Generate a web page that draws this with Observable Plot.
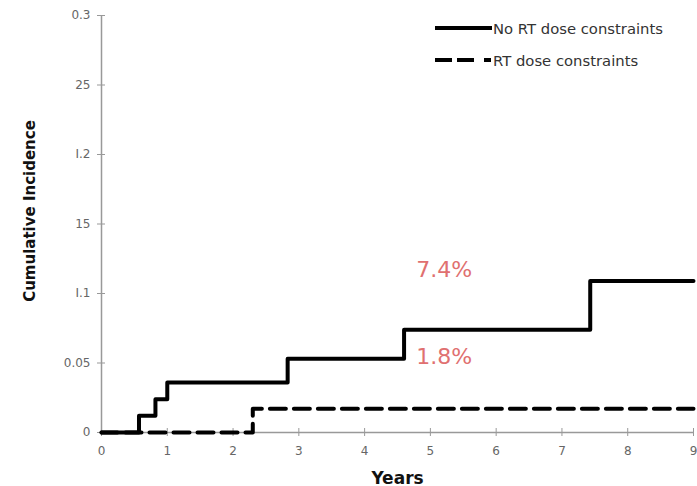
<!DOCTYPE html>
<html>
<head>
<meta charset="utf-8">
<script src="https://cdn.jsdelivr.net/npm/d3@7"></script>
<script src="https://cdn.jsdelivr.net/npm/@observablehq/plot@0.6"></script>
<style>
  body { margin: 0; background: #fff; font-family: "DejaVu Sans", sans-serif; }
  #wrap { position: relative; width: 697px; height: 486px; }
  .row { position: absolute; left: 435px; display: flex; align-items: center; height: 20px;
         font-size: 14.8px; color: #333; white-space: nowrap; }
  .row svg { margin-right: 1px; }
</style>
</head>
<body>
<div id="wrap">
  <div id="chart"></div>
</div>
<script>
// Step points: No RT dose constraints
const noRtYears = [0, 0.57, 0.82, 1.0, 2.83, 4.6, 7.43, 9];
const noRtIncidence = [0, 0.012, 0.024, 0.036, 0.053, 0.074, 0.109, 0.109];
// Step points: RT dose constraints
const rtYears = [0, 2.3, 9];
const rtIncidence = [0, 0.017, 0.017];
// Annotations
const annotTexts = ["7.4%", "1.8%"];
const annotX = [5.21, 5.21];
const annotY = [0.1166, 0.054];
// Ticks
const yTicks = [0, 0.05, 0.1, 0.15, 0.2, 0.25, 0.3];
const yTickLabels = ["0", "0.05", "I.1", "15", "I.2", "25", "0.3"];
const xTicks = [0, 1, 2, 3, 4, 5, 6, 7, 8, 9];
const seriesNames = ["No RT dose constraints", "RT dose constraints"];

const noRt = noRtYears.map((x, i) => ({x, y: noRtIncidence[i]}));
const rt = rtYears.map((x, i) => ({x, y: rtIncidence[i]}));
const annots = annotTexts.map((t, i) => ({t, x: annotX[i], y: annotY[i]}));

const plot = Plot.plot({
  width: 697,
  height: 486,
  marginLeft: 101,
  marginRight: 4,
  marginTop: 15,
  marginBottom: 54,
  style: { fontFamily: "'DejaVu Sans', sans-serif", background: "#fff" },
  x: { domain: [0, 9] },
  y: { domain: [0, 0.3] },
  marks: [
    Plot.ruleX([0], { stroke: "#999", strokeWidth: 1.5 }),
    Plot.ruleY([0], { stroke: "#999", strokeWidth: 1.5 }),
    Plot.axisY({ ticks: yTicks, tickSize: 4, tickPadding: 7, stroke: "#999",
      tickFormat: (d) => yTickLabels[yTicks.indexOf(d)], fontSize: 12, fill: "#666", label: null }),
    Plot.axisY({ ticks: yTicks, tickSize: -4, stroke: "#999", text: null, label: null }),
    Plot.axisX({ ticks: xTicks, tickSize: 4, tickPadding: 10, stroke: "#999",
      fontSize: 12, fill: "#666", label: null }),
    Plot.axisX({ ticks: xTicks, tickSize: -4, stroke: "#999", text: null, label: null }),
    Plot.text(["Cumulative Incidence"], { frameAnchor: "left", textAnchor: "middle", dx: -71, dy: -13,
      rotate: -90, fontSize: 15, fontWeight: "bold", fill: "#111" }),
    Plot.text(["Years"], { frameAnchor: "bottom", lineAnchor: "bottom", dy: 51, fontSize: 17,
      fontWeight: "bold", fill: "#111" }),
    Plot.line(rt, { x: "x", y: "y", curve: "step-after", stroke: "#000", strokeWidth: 4,
      strokeDasharray: "16,8" }),
    Plot.line(noRt, { x: "x", y: "y", curve: "step-after", stroke: "#000", strokeWidth: 4 }),
    Plot.text(annots, { x: "x", y: "y", text: "t", fontSize: 22, fill: "#e07070" })
  ]
});
document.getElementById("chart").appendChild(plot);

const wrap = document.getElementById("wrap");
const dashes = ["", "17,5,17,10,7"];
const rowTops = [18, 50];
seriesNames.forEach((name, i) => {
  const row = document.createElement("div");
  row.className = "row";
  row.style.top = rowTops[i] + "px";
  row.innerHTML = `<svg width="57" height="8"><line x1="0" y1="4" x2="57" y2="4" stroke="#000" stroke-width="4" ${dashes[i] ? `stroke-dasharray="${dashes[i]}"` : ""}/></svg><span>${name}</span>`;
  wrap.appendChild(row);
});
</script>
</body>
</html>
